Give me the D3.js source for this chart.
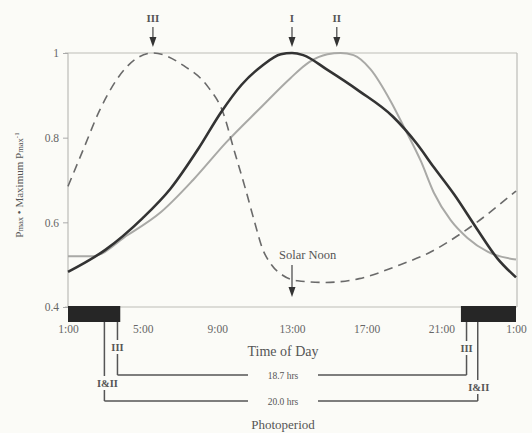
<!DOCTYPE html>
<html>
<head>
<meta charset="utf-8">
<script src="https://cdn.jsdelivr.net/npm/d3@7"></script>
<style>
  html, body { margin: 0; padding: 0; background: #fbfbf7; }
  svg { display: block; }
  text { font-family: "Liberation Serif", "Times New Roman", serif; fill: #444; }
</style>
</head>
<body>
<svg id="chart" width="532" height="433"></svg>
<script>
// Relative photosynthetic capacity (Pmax / maximum Pmax) over the day, hours 1..25
const hoursI  = [1.0, 3.0, 5.0, 6.5, 8.0, 9.2, 10.3, 11.4, 12.4, 13.0, 13.6, 14.9, 16.6, 18.4, 19.7, 20.6, 21.7, 22.9, 24.0, 25.0];
const valuesI = [0.483, 0.535, 0.61, 0.68, 0.775, 0.86, 0.925, 0.97, 0.997, 1.0, 0.995, 0.96, 0.91, 0.85, 0.785, 0.73, 0.665, 0.585, 0.515, 0.47];

const hoursII  = [1.0, 2.3, 4.2, 6.0, 7.7, 9.5, 11.3, 12.9, 13.9, 14.9, 15.6, 16.3, 17.2, 18.3, 19.0, 19.9, 20.6, 21.5, 22.4, 23.5, 25.0];
const valuesII = [0.52, 0.52, 0.57, 0.625, 0.70, 0.79, 0.87, 0.94, 0.978, 0.997, 1.0, 0.995, 0.962, 0.885, 0.825, 0.745, 0.67, 0.605, 0.563, 0.53, 0.512];

const hoursIII  = [1.0, 1.8, 2.7, 4.1, 5.55, 7.2, 8.5, 9.3, 9.9, 10.5, 11.0, 11.4, 11.9, 12.5, 13.3, 14.8, 16.6, 18.8, 20.3, 22.2, 25.0];
const valuesIII = [0.685, 0.77, 0.865, 0.965, 1.0, 0.97, 0.92, 0.86, 0.77, 0.68, 0.60, 0.54, 0.50, 0.475, 0.462, 0.458, 0.467, 0.50, 0.527, 0.578, 0.674];

const peakLabels = ["III", "I", "II"];
const peakHours  = [5.55, 13.0, 15.4];
const solarNoon  = 13.0;

const xTickHours  = [1, 5, 9, 13, 17, 21, 25];
const xTickLabels = ["1:00", "5:00", "9:00", "13:00", "17:00", "21:00", "1:00"];
const yTicks      = [0.4, 0.6, 0.8, 1];
const yTickLabels = ["0.4", "0.6", "0.8", "1"];

// Dark periods (hours) and photoperiods
const darkBars = [[1.0, 3.8], [22.05, 25.0]];
const photoLabels = ["III", "I&II"];
const photoStart  = [3.65, 2.95];
const photoEnd    = [22.35, 22.95];
const photoText   = ["18.7 hrs", "20.0 hrs"];

const svg = d3.select("#chart");
const x = d3.scaleLinear().domain([1, 25]).range([68, 516]);
const y = d3.scaleLinear().domain([0.4, 1]).range([307, 53]);

// frame
const frame = svg.append("g").attr("stroke", "#bdbdb8").attr("stroke-width", 1.2).attr("fill", "none");
frame.append("line").attr("x1", 65).attr("x2", x(25) + 1).attr("y1", y(1)).attr("y2", y(1));
frame.append("line").attr("x1", 65).attr("x2", x(25) + 1).attr("y1", y(0.4)).attr("y2", y(0.4));
frame.append("line").attr("x1", x(1)).attr("x2", x(1)).attr("y1", y(1)).attr("y2", y(0.4));
frame.append("line").attr("x1", x(25) + 1).attr("x2", x(25) + 1).attr("y1", y(1)).attr("y2", y(0.4));

// y axis ticks
const yAxis = d3.axisLeft(y).tickValues(yTicks).tickSize(5).tickPadding(4)
  .tickFormat((d, i) => yTickLabels[i]);
const gy = svg.append("g").attr("transform", `translate(${x(1)},0)`).call(yAxis);
gy.select(".domain").remove();
gy.selectAll(".tick line").attr("stroke", "#aaa");
gy.selectAll(".tick text").style("font-size", "11.5px").style("fill", "#666")
  .style("font-family", "Liberation Serif, serif");

// x axis labels
const xAxis = d3.axisBottom(x).tickValues(xTickHours).tickSize(0).tickPadding(0)
  .tickFormat((d, i) => xTickLabels[i]);
const gx = svg.append("g").attr("transform", `translate(0,${y(0.4) + 18})`).call(xAxis);
gx.select(".domain").remove();
gx.selectAll(".tick text").style("font-size", "11.5px").style("fill", "#666")
  .style("font-family", "Liberation Serif, serif");

// dark-period bars
svg.selectAll("rect.dark").data(darkBars).enter().append("rect")
  .attr("class", "dark")
  .attr("x", d => x(d[0])).attr("width", d => x(d[1]) - x(d[0]))
  .attr("y", y(0.4) - 1).attr("height", 16)
  .attr("fill", "#262626");

// curves
const line = (hs, vs) => d3.line().x((d, i) => x(hs[i])).y(d => y(d))
  .curve(d3.curveMonotoneX)(vs);
svg.append("path").attr("d", line(hoursII, valuesII))
  .attr("fill", "none").attr("stroke", "#a9a9a6").attr("stroke-width", 2);
svg.append("path").attr("d", line(hoursIII, valuesIII))
  .attr("fill", "none").attr("stroke", "#6a6a6a").attr("stroke-width", 1.6)
  .attr("stroke-dasharray", "9,6");
svg.append("path").attr("d", line(hoursI, valuesI))
  .attr("fill", "none").attr("stroke", "#333").attr("stroke-width", 2.6);

// downward arrow helper
function arrow(cx, yTop, yTip) {
  svg.append("line").attr("x1", cx).attr("x2", cx).attr("y1", yTop).attr("y2", yTip - 8)
    .attr("stroke", "#444").attr("stroke-width", 1.2);
  svg.append("path")
    .attr("d", `M${cx - 3.5},${yTip - 10} L${cx + 3.5},${yTip - 10} L${cx},${yTip} Z`)
    .attr("fill", "#333");
}

// peak markers
peakLabels.forEach((lab, i) => {
  const cx = x(peakHours[i]);
  svg.append("text").attr("x", cx).attr("y", 22).attr("text-anchor", "middle")
    .style("font-size", "11px").style("font-weight", "bold").style("fill", "#555").text(lab);
  arrow(cx, 27, 47);
});

// solar noon
svg.append("text").attr("x", x(solarNoon) - 13).attr("y", 259)
  .style("font-size", "12.5px").style("fill", "#555").text("Solar Noon");
arrow(x(solarNoon), 265, 297);

// axis titles
svg.append("text").attr("x", 283).attr("y", 356).attr("text-anchor", "middle")
  .style("font-size", "14px").style("fill", "#555").text("Time of Day");
svg.append("text").attr("x", 283).attr("y", 429).attr("text-anchor", "middle")
  .style("font-size", "13px").style("fill", "#555").text("Photoperiod");

const yl = svg.append("text").attr("transform", "translate(23,185) rotate(-90)")
  .attr("text-anchor", "middle").style("font-size", "11px").style("fill", "#555");
yl.append("tspan").text("P");
yl.append("tspan").style("font-size", "8.5px").text("max");
yl.append("tspan").text(" \u2022 Maximum P");
yl.append("tspan").style("font-size", "8.5px").text("max");
yl.append("tspan").attr("dy", -4).style("font-size", "7px").text("-1");

// photoperiod brackets
const barBottom = y(0.4) + 15;
const bracketY = [375, 401];
const labelY = [[351, 352], [387, 391]];
const labelDx = [[0, 0], [3, 1]];
photoLabels.forEach((lab, i) => {
  const xs = [x(photoStart[i]), x(photoEnd[i])];
  const by = bracketY[i];
  const g = svg.append("g").attr("stroke", "#555").attr("stroke-width", 1.5).attr("fill", "none");
  xs.forEach((xx, j) => {
    const ly = labelY[i][j];
    g.append("line").attr("x1", xx).attr("x2", xx).attr("y1", barBottom).attr("y2", ly - 11);
    g.append("line").attr("x1", xx).attr("x2", xx).attr("y1", ly + 3).attr("y2", by);
    svg.append("text").attr("x", xx + labelDx[i][j]).attr("y", ly).attr("text-anchor", "middle")
      .style("font-size", "10.5px").style("font-weight", "bold").style("fill", "#555").text(lab);
  });
  g.append("path").attr("d", `M${xs[0]},${by} H248`);
  g.append("path").attr("d", `M318,${by} H${xs[1]}`);
  svg.append("text").attr("x", 283).attr("y", by + 3.5).attr("text-anchor", "middle")
    .style("font-size", "9.5px").style("fill", "#555").text(photoText[i]);
});
</script>
</body>
</html>
